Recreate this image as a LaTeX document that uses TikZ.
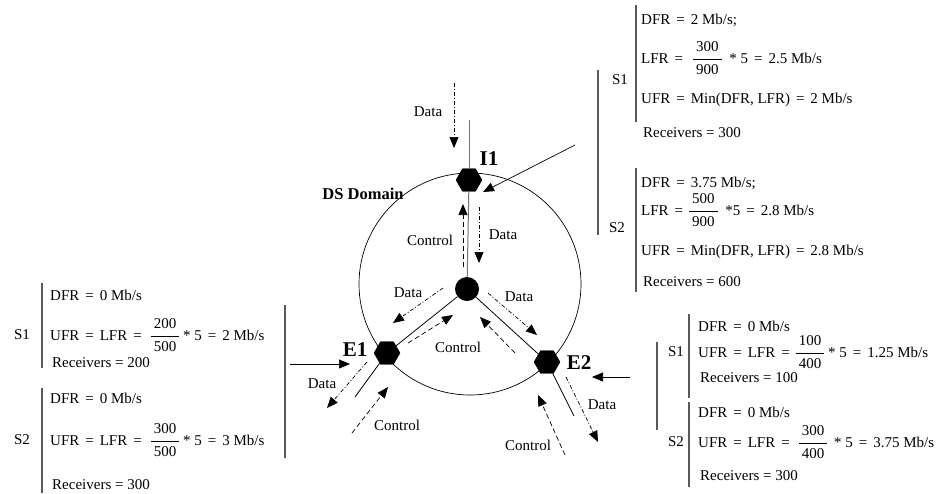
\documentclass[tikz,border=0pt]{standalone}
\usepackage{fontspec}
\setmainfont{Liberation Serif}
\usetikzlibrary{arrows.meta,shapes.geometric}
\newcommand{\myfr}[2]{\begin{tabular}{@{\hspace{3pt}}c@{\hspace{3pt}}}#1\\[2pt]\hline\rule{0pt}{15pt}#2\end{tabular}}
\newcommand{\eq}{\hspace{0.4em}=\hspace{0.4em}}
\begin{document}
\begin{tikzpicture}[x=1pt,y=-1pt,
  txt/.style={font=\fontsize{15}{18}\selectfont, inner sep=0pt, anchor=base west},
  lbl/.style={font=\fontsize{15}{18}\selectfont, inner sep=0pt},
  big/.style={font=\fontsize{21}{24}\selectfont\bfseries, inner sep=0pt},
  hexa/.style={regular polygon, regular polygon sides=6, fill=black, draw=black, minimum size=26pt, inner sep=0pt},
  bar/.style={draw=black!65, line width=1.1pt},
  tip/.style={-{Triangle[length=11pt,width=9pt]}},
  solidarr/.style={tip, line width=0.7pt},
  dataarr/.style={tip, line width=0.7pt, dash pattern=on 4pt off 2pt on 1pt off 2pt},
  ctrlarr/.style={tip, line width=0.7pt, dash pattern=on 5pt off 3pt},
  link/.style={line width=0.8pt}]
\useasboundingbox (0,0) rectangle (949,493);

% domain
\draw[line width=0.7pt] (470,284) circle[radius=111pt];
\node[font=\fontsize{16.5}{20}\selectfont\bfseries, inner sep=0pt] (dslab) at (363,194) {DS Domain};

% routers
\node[hexa] (I1) at (469,180) {};
\node[circle, fill=black, minimum size=24pt, inner sep=0pt] (core) at (467,289) {};
\node[hexa] (E1) at (387,353) {};
\node[hexa] (E2) at (547,362) {};
\node[big] (I1lab) at (489,159) {I1};
\node[big] (E1lab) at (355,350) {E1};
\node[big] (E2lab) at (579,363) {E2};

% links
\coordinate (topI) at (469,120);
\coordinate (e1t) at (355,397);
\coordinate (e2t) at (574,416);
\draw[black!55, line width=1pt] (topI) -- (I1);
\draw[black!55, line width=1pt] (I1) -- (core);
\draw[link] (core) -- (E1);
\draw[link] (core) -- (E2);
\draw[link] (E1) -- (e1t);
\draw[link] (E2) -- (e2t);

% ingress arrows
\coordinate (inIa) at (575,145); \coordinate (inIb) at (483,192);
\draw[solidarr] (inIa) -- (inIb);
\coordinate (inE1a) at (290,364); \coordinate (inE1b) at (350,364);
\draw[solidarr] (inE1a) -- (inE1b);
\coordinate (inE2a) at (630,377); \coordinate (inE2b) at (592,377);
\draw[solidarr] (inE2a) -- (inE2b);

% flow arrows
\coordinate (d0a) at (454,83); \coordinate (d0b) at (454,148);
\draw[dataarr] (d0a) -- (d0b);
\node[lbl] (d0l) at (428,112) {Data};

\coordinate (c1a) at (463,267); \coordinate (c1b) at (463,204);
\draw[ctrlarr] (c1a) -- (c1b);
\node[lbl] (c1l) at (430,240) {Control};
\coordinate (d1a) at (479,207); \coordinate (d1b) at (479,263);
\draw[dataarr] (d1a) -- (d1b);
\node[lbl] (d1l) at (503,235) {Data};

\coordinate (d2a) at (443,288); \coordinate (d2b) at (393,323);
\draw[dataarr] (d2a) -- (d2b);
\node[lbl] (d2l) at (408,293) {Data};
\coordinate (c2a) at (408,343); \coordinate (c2b) at (453,315);
\draw[ctrlarr] (c2a) -- (c2b);
\node[lbl] (c2l) at (458,347) {Control};

\coordinate (d3a) at (488,293); \coordinate (d3b) at (537,335);
\draw[dataarr] (d3a) -- (d3b);
\node[lbl] (d3l) at (519,297) {Data};
\coordinate (c3a) at (515,353); \coordinate (c3b) at (480,317);
\draw[ctrlarr] (c3a) -- (c3b);

\coordinate (d4a) at (367,362); \coordinate (d4b) at (327,408);
\draw[dataarr] (d4a) -- (d4b);
\node[lbl] (d4l) at (322,384) {Data};
\coordinate (c4a) at (352,433); \coordinate (c4b) at (388,387);
\draw[ctrlarr] (c4a) -- (c4b);
\node[lbl] (c4l) at (397,425) {Control};

\coordinate (d5a) at (566,377); \coordinate (d5b) at (598,442);
\draw[dataarr] (d5a) -- (d5b);
\node[lbl] (d5l) at (602,405) {Data};
\coordinate (c5a) at (565,455); \coordinate (c5b) at (538,395);
\draw[ctrlarr] (c5a) -- (c5b);
\node[lbl] (c5l) at (528,445) {Control};

% top right block
\draw[bar] (598,70) -- (598,235);
\draw[bar] (636,5) -- (636,122);
\node[lbl] (trs1) at (620,80) {S1};
\node[txt] (tr1) at (641,24) {DFR\eq 2 Mb/s;};
\node[txt] (tr2) at (641,63) {LFR\eq\hspace{4pt}\myfr{300}{900}\hspace{4pt} * 5\eq 2.5 Mb/s};
\node[txt] (tr3) at (641,103) {UFR\eq Min(DFR, LFR)\eq 2 Mb/s};
\node[txt] (tr4) at (643,137) {Receivers = 300};
\draw[bar] (636,168) -- (636,292);
\node[lbl] (trs2) at (617,228) {S2};
\node[txt] (tr5) at (641,187) {DFR\eq 3.75 Mb/s;};
\node[txt] (tr6) at (641,215) {LFR\eq\myfr{500}{900}\hspace{4pt} *5\eq 2.8 Mb/s};
\node[txt] (tr7) at (641,255) {UFR\eq Min(DFR, LFR)\eq 2.8 Mb/s};
\node[txt] (tr8) at (643,286) {Receivers = 600};

% left block
\draw[bar] (285,305) -- (285,458);
\draw[bar] (42,283) -- (42,368);
\node[lbl] (ls1) at (22,335) {S1};
\node[txt] (l1) at (50,300) {DFR\eq 0 Mb/s};
\node[txt] (l2) at (50,340) {UFR\eq LFR\eq\hspace{3pt}\myfr{200}{500} * 5\eq 2 Mb/s};
\node[txt] (l3) at (52,367) {Receivers = 200};
\draw[bar] (42,388) -- (42,493);
\node[lbl] (ls2) at (22,440) {S2};
\node[txt] (l4) at (50,403) {DFR\eq 0 Mb/s};
\node[txt] (l5) at (50,445) {UFR\eq LFR\eq\hspace{3pt}\myfr{300}{500} * 5\eq 3 Mb/s};
\node[txt] (l6) at (52,489) {Receivers = 300};

% bottom right block
\draw[bar] (657,342) -- (657,430);
\draw[bar] (689,314) -- (689,398);
\node[lbl] (rs1) at (676,352) {S1};
\node[txt] (r1) at (698,331) {DFR\eq 0 Mb/s};
\node[txt] (r2) at (698,357) {UFR\eq LFR\eq\myfr{100}{400} * 5\eq 1.25 Mb/s};
\node[txt] (r3) at (700,382) {Receivers = 100};
\draw[bar] (689,402) -- (689,487);
\node[lbl] (rs2) at (676,442) {S2};
\node[txt] (r4) at (698,417) {DFR\eq 0 Mb/s};
\node[txt] (r5) at (698,447) {UFR\eq LFR\eq\hspace{3pt}\myfr{300}{400}\hspace{3pt} * 5\eq 3.75 Mb/s};
\node[txt] (r6) at (700,480) {Receivers = 300};
\end{tikzpicture}
\end{document}
